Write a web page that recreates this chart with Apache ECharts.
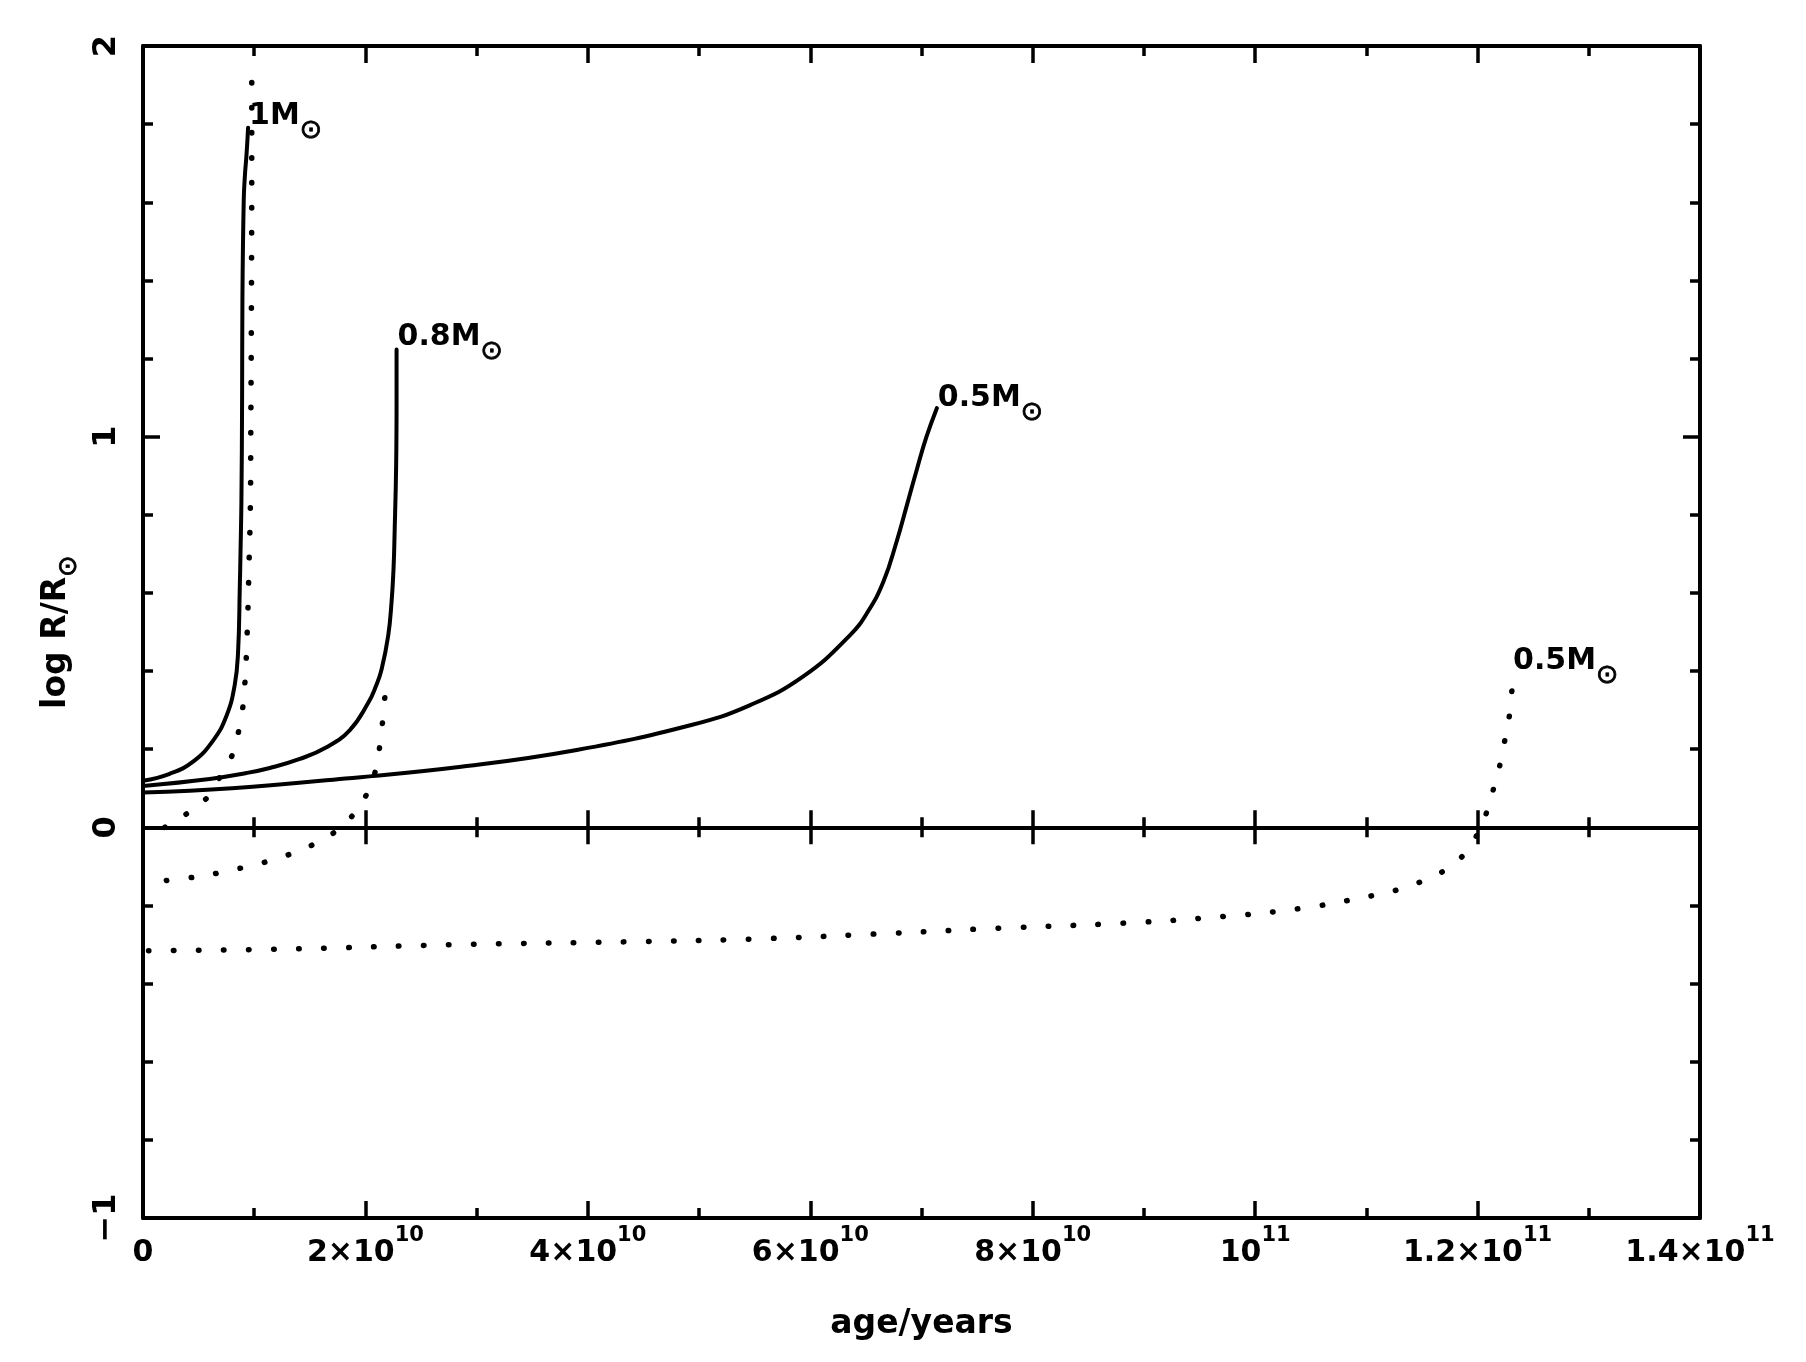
<!DOCTYPE html>
<html><head><meta charset="utf-8">
<script src="https://cdn.jsdelivr.net/npm/echarts@6/dist/echarts.min.js"></script>
<style>html,body{margin:0;padding:0;background:#fff}#c{width:1806px;height:1362px}</style>
</head><body><div id="c"></div>
<script>
// ---- tick labels ----
const xTickValues = [0, 2e10, 4e10, 6e10, 8e10, 1e11, 1.2e11, 1.4e11];
const xTickBase   = ['0', '2×10', '4×10', '6×10', '8×10', '10', '1.2×10', '1.4×10'];
const xTickExp    = ['', '10', '10', '10', '10', '11', '11', '11'];
const yTickValues = [-1, 0, 1, 2];
const yTickLabels = ['−1', '0', '1', '2'];

// ---- 1 Msun, solid ----
const age1Solid  = [0, 0.24e10, 0.45e10, 0.63e10, 0.75e10, 0.825e10, 0.855e10, 0.87e10, 0.877e10, 0.885e10, 0.891e10, 0.894e10, 0.906e10, 0.918e10, 0.93e10, 0.945e10];
const logR1Solid = [0.119, 0.137, 0.168, 0.222, 0.285, 0.365, 0.450, 0.610, 0.707, 0.837, 1.095, 1.351, 1.607, 1.676, 1.718, 1.791];
// ---- 1 Msun, dotted ----
const age1Dot  = [0.195e10, 0.395e10, 0.57e10, 0.69e10, 0.795e10, 0.855e10, 0.894e10, 0.915e10, 0.936e10, 0.954e10, 0.966e10, 0.969e10, 0.975e10, 0.978e10, 0.978e10];
const logR1Dot = [0.0, 0.035, 0.074, 0.128, 0.180, 0.240, 0.300, 0.364, 0.492, 0.681, 0.837, 1.0, 1.351, 1.735, 1.910];
// ---- 0.8 Msun, solid ----
const age08Solid  = [0, 0.6e10, 0.93e10, 1.14e10, 1.41e10, 1.65e10, 1.86e10, 2.024e10, 2.094e10, 2.145e10, 2.205e10, 2.235e10, 2.253e10, 2.262e10, 2.276e10, 2.28e10, 2.28e10];
const logR08Solid = [0.106, 0.124, 0.139, 0.152, 0.175, 0.205, 0.249, 0.318, 0.361, 0.404, 0.491, 0.577, 0.664, 0.750, 0.923, 1.095, 1.223];
// ---- 0.8 Msun, dotted ----
const age08Dot  = [0.21e10, 0.45e10, 0.675e10, 0.90e10, 1.11e10, 1.32e10, 1.53e10, 1.725e10, 1.89e10, 2.01e10, 2.09e10, 2.13e10, 2.154e10, 2.175e10];
const logR08Dot = [-0.136, -0.128, -0.117, -0.103, -0.088, -0.069, -0.044, -0.012, 0.032, 0.084, 0.145, 0.210, 0.270, 0.335];
// ---- 0.5 Msun, solid ----
const age05Solid  = [0, 0.8e10, 1.82e10, 2.86e10, 3.9e10, 4.93e10, 5.46e10, 5.94e10, 6.358e10, 6.52e10, 6.658e10, 6.778e10, 6.87e10, 6.96e10, 7.045e10, 7.138e10];
const logR05Solid = [0.089, 0.100, 0.125, 0.155, 0.198, 0.262, 0.313, 0.387, 0.492, 0.553, 0.629, 0.733, 0.826, 0.918, 1.0, 1.073];
// ---- 0.5 Msun, dotted ----
const age05Dot  = [0.05e10, 1.37e10, 2.86e10, 4.36e10, 5.48e10, 6.59e10, 7.71e10, 8.83e10, 9.73e10, 10.40e10, 10.84e10, 11.07e10, 11.29e10, 11.50e10, 11.71e10, 11.88e10, 11.98e10, 12.09e10, 12.15e10, 12.21e10, 12.25e10, 12.29e10, 12.31e10];
const logR05Dot = [-0.316, -0.311, -0.300, -0.293, -0.286, -0.273, -0.258, -0.245, -0.228, -0.208, -0.187, -0.174, -0.159, -0.138, -0.109, -0.069, -0.027, 0.045, 0.106, 0.171, 0.231, 0.294, 0.358];

const curveMass = ['1M', '0.8M', '0.5M', '0.5M'];

const FONT = 'DejaVu Sans';
const BLACK = '#000';
function pairs(a, b) { return a.map((v, i) => [v, b[i]]); }

const labelRich = {
  m: { fontFamily: FONT, fontWeight: 'bold', fontSize: 30, color: BLACK, lineHeight: 56 },
  s: { fontFamily: FONT, fontSize: 27, color: BLACK, lineHeight: 27, verticalAlign: 'bottom', textBorderColor: BLACK, textBorderWidth: 0.8 }
};

function lineSeries(ages, vals, dotted, massText, offsetY) {
  const s = {
    type: 'line',
    data: pairs(ages, vals),
    showSymbol: false,
    smooth: 0.45,
    silent: true,
    lineStyle: dotted
      ? { color: BLACK, width: 5.5, type: [0.5, 24.5], cap: 'round' }
      : { color: BLACK, width: 4, type: 'solid', cap: 'round', join: 'round' },
    z: 3
  };
  if (massText) {
    s.endLabel = {
      show: true,
      distance: 1,
      offset: [0, offsetY],
      formatter: '{m|' + massText + '}{s|⊙}',
      rich: labelRich
    };
  }
  return s;
}

function xLabelFmt(v) {
  let i = xTickValues.findIndex(t => Math.abs(t - v) < 1e6);
  if (i < 0) return '';
  return xTickExp[i] ? '{m|' + xTickBase[i] + '}{s|' + xTickExp[i] + '}' : '{m|' + xTickBase[i] + '}';
}
function yLabelFmt(v) {
  let i = yTickValues.findIndex(t => Math.abs(t - v) < 1e-6);
  return i < 0 ? '' : yTickLabels[i];
}

const axisLineStyle = { color: BLACK, width: 4 };
function xAxisDef(pos, onZero, inside, zeroIdx, withLabels) {
  const a = {
    type: 'value', min: 0, max: 1.4e11, interval: 2e10, position: pos,
    axisLine: { show: true, onZero: onZero, lineStyle: axisLineStyle },
    axisTick: { show: true, inside: inside, length: 17, lineStyle: { color: BLACK, width: 3.5 } },
    minorTick: { show: true, splitNumber: 2, length: 10, lineStyle: { color: BLACK, width: 3.5 } },
    splitLine: { show: false }, minorSplitLine: { show: false },
    axisLabel: { show: false }
  };
  if (onZero) a.axisLine.onZeroAxisIndex = zeroIdx;
  if (withLabels) {
    a.axisLabel = {
      show: true, margin: 7, showMinLabel: true, showMaxLabel: true,
      formatter: xLabelFmt,
      rich: {
        m: { fontFamily: FONT, fontWeight: 'bold', fontSize: 30, color: BLACK, lineHeight: 56 },
        s: { fontFamily: FONT, fontWeight: 'bold', fontSize: 21, color: BLACK, lineHeight: 21, verticalAlign: 'top' }
      }
    };
    a.name = 'age/years';
    a.nameLocation = 'middle';
    a.nameGap = 86;
    a.nameTextStyle = { fontFamily: FONT, fontWeight: 'bold', fontSize: 33, color: BLACK, lineHeight: 40 };
  }
  return a;
}
function yAxisDef(pos, withLabels) {
  const a = {
    type: 'value', min: -1, max: 2, interval: 1, position: pos,
    axisLine: { show: true, onZero: false, lineStyle: axisLineStyle },
    axisTick: { show: true, inside: true, length: 17, lineStyle: { color: BLACK, width: 3.5 } },
    minorTick: { show: true, splitNumber: 5, length: 10, lineStyle: { color: BLACK, width: 3.5 } },
    splitLine: { show: false }, minorSplitLine: { show: false },
    axisLabel: { show: false }
  };
  if (withLabels) {
    a.axisLabel = {
      show: true, rotate: 90, margin: 20, showMinLabel: true, showMaxLabel: true,
      formatter: yLabelFmt,
      fontFamily: FONT, fontWeight: 'bold', fontSize: 32, color: BLACK
    };
    a.name = '{n|log R/R}{s|⊙}';
    a.nameLocation = 'middle';
    a.nameGap = 53;
    a.nameTextStyle = {
      rich: {
        n: { fontFamily: FONT, fontWeight: 'bold', fontSize: 33, color: BLACK, lineHeight: 52 },
        s: { fontFamily: FONT, fontSize: 26, color: BLACK, lineHeight: 26, verticalAlign: 'bottom', textBorderColor: BLACK, textBorderWidth: 0.8 }
      }
    };
  }
  return a;
}

const chart = echarts.init(document.getElementById('c'), null, { renderer: 'canvas' });
chart.setOption({
  animation: false,
  backgroundColor: '#fff',
  grid: { left: 143, right: 106, top: 46, bottom: 144, containLabel: false, outerBoundsMode: 'none' },
  xAxis: [
    xAxisDef('bottom', false, true, 0, true),
    xAxisDef('top', false, true, 0, false),
    xAxisDef('bottom', true, false, 0, false),
    xAxisDef('top', true, false, 1, false)
  ],
  yAxis: [yAxisDef('left', true), yAxisDef('right', false)],
  series: [
    lineSeries(age1Solid, logR1Solid, false, curveMass[0], -11),
    lineSeries(age1Dot, logR1Dot, true, null, 0),
    lineSeries(age08Solid, logR08Solid, false, curveMass[1], -12),
    lineSeries(age08Dot, logR08Dot, true, null, 0),
    lineSeries(age05Solid, logR05Solid, false, curveMass[2], -10),
    lineSeries(age05Dot, logR05Dot, true, curveMass[3], -26)
  ]
});
</script>
</body></html>
